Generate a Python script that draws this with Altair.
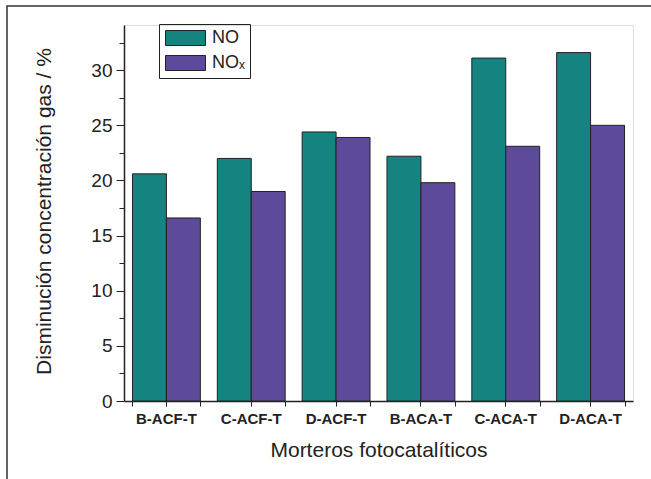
import altair as alt
import pandas as pd

# Mortar samples and the reduction of each gas (%)
categories = ["B-ACF-T", "C-ACF-T", "D-ACF-T", "B-ACA-T", "C-ACA-T", "D-ACA-T"]
series = ["NO", "NOₓ"]
no_values = [20.6, 22.0, 24.4, 22.2, 31.1, 31.6]
nox_values = [16.6, 19.0, 23.9, 19.8, 23.1, 25.0]
colors = ["#15837f", "#5e4a9b"]

major_ticks = [0, 5, 10, 15, 20, 25, 30]
minor_ticks = [2.5, 7.5, 12.5, 17.5, 22.5, 27.5, 32.5]

rows = []
for cat, no, nox in zip(categories, no_values, nox_values):
    rows.append({"mortero": cat, "gas": series[0], "valor": no})
    rows.append({"mortero": cat, "gas": series[1], "valor": nox})
df = pd.DataFrame(rows)

FONT = "Liberation Sans"
INK = "#222222"

x_scale = alt.Scale(paddingInner=0.2, paddingOuter=0.1)
y_scale = alt.Scale(domain=[0, 34.1], nice=False, zero=True)

# Wide rectangle swatch for legend entries (left edge at the entry origin)
swatch = "M-1,-1H4.333V1H-1Z"

bars = alt.Chart(df).mark_bar(stroke=INK, strokeWidth=1).encode(
    x=alt.X(
        "mortero:N", sort=categories, scale=x_scale,
        axis=alt.Axis(
            orient="bottom", labelAngle=0, labelFontSize=15, labelFontWeight="bold",
            labelFont=FONT, labelColor=INK, labelPadding=5, tickSize=5,
            tickColor=INK, domainColor=INK, domainWidth=1.5,
            title="Morteros fotocatalíticos", titleFont=FONT, titleFontSize=21,
            titleFontWeight="normal", titleColor=INK, titleY=55,
            titleBaseline="alphabetic",
        ),
    ),
    xOffset=alt.XOffset("gas:N", sort=series),
    y=alt.Y(
        "valor:Q", scale=y_scale,
        axis=alt.Axis(
            orient="left", values=major_ticks, grid=False, tickSize=8,
            tickColor=INK, domainColor=INK, domainWidth=1.5,
            labelFont=FONT, labelFontSize=19, labelColor=INK, labelPadding=4,
            title="Disminución concentración gas / %", titleFont=FONT,
            titleFontSize=21, titleFontWeight="normal", titleColor=INK,
            titleAngle=270, titleX=-74, titleY=186, titleBaseline="alphabetic",
            titleAlign="center",
        ),
    ),
    color=alt.Color(
        "gas:N",
        scale=alt.Scale(domain=series, range=colors),
        legend=alt.Legend(
            title=None, orient="none", legendX=35, legendY=-1,
            symbolType=swatch, symbolSize=225, symbolStrokeColor=INK,
            symbolStrokeWidth=1, symbolOpacity=1,
            labelFont=FONT, labelFontSize=18, labelColor=INK, labelOffset=30,
            rowPadding=5, padding=5, strokeColor=INK,
        ),
    ),
)

# Minor ticks on the value axis and boundary ticks on the category axis
minor = alt.Chart(df).mark_bar(opacity=0).encode(
    x=alt.X(
        "mortero:N", sort=categories, scale=x_scale,
        axis=alt.Axis(orient="bottom", labels=False, domain=False, tickSize=5,
                      tickColor=INK, tickBand="extent", title=None),
    ),
    xOffset=alt.XOffset("gas:N", sort=series),
    y=alt.Y(
        "valor:Q", scale=y_scale,
        axis=alt.Axis(orient="left", values=minor_ticks, labels=False,
                      domain=False, grid=False, tickSize=5, tickColor=INK,
                      title=None),
    ),
)

# Figure frame
frame = alt.Chart(pd.DataFrame({"f": [0]})).mark_rect(
    filled=False, stroke="#333333", strokeWidth=1.5
).encode(
    x=alt.value(-117), x2=alt.value(545),
    y=alt.value(-19), y2=alt.value(470),
)

chart = alt.layer(frame, bars, minor).resolve_axis(
    x="independent", y="independent"
).properties(
    width=509, height=376,
    autosize=alt.AutoSizeParams(type="none"),
    padding={"left": 124, "top": 25, "right": 18, "bottom": 78},
).configure_view(stroke=None).configure(background="white")

chart.save("out.html", embed_options={"renderer": "svg", "actions": False})
